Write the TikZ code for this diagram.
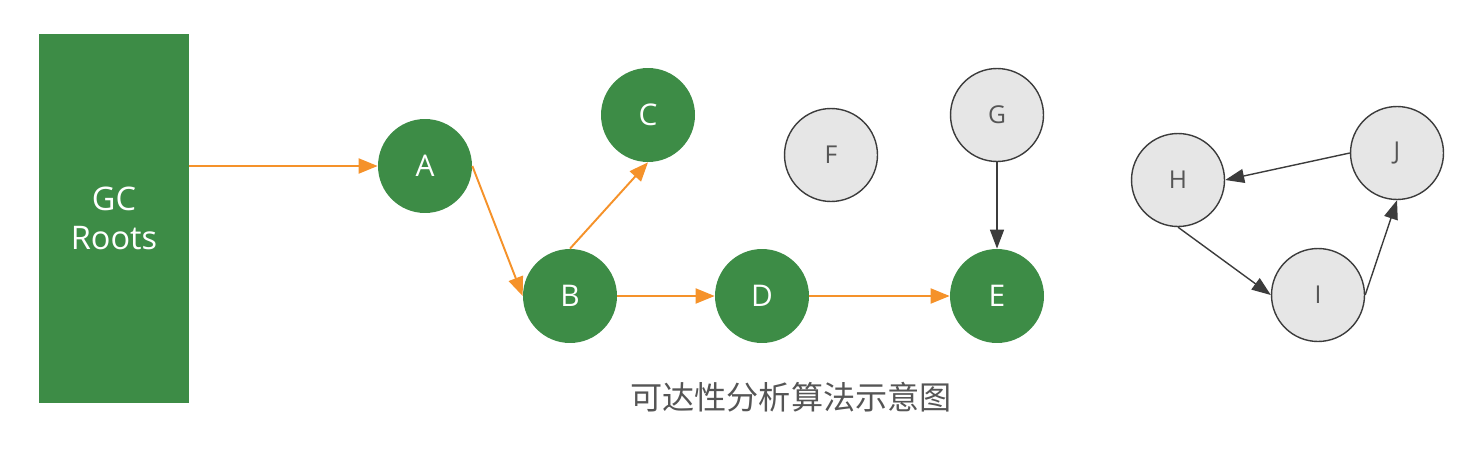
\documentclass[tikz,border=0pt]{standalone}
\usepackage{fontspec}
\setmainfont{Open Sans}
\newfontfamily\cjkfont{Noto Sans CJK SC}
\usetikzlibrary{arrows.meta}

\begin{document}
\begin{tikzpicture}[x=0.02cm, y=-0.02cm,
    live/.style={circle, fill=liveGreen, text=white, minimum size=1.88cm, inner sep=0pt, font=\fontsize{17}{20}\selectfont},
    dead/.style={circle, fill=deadFill, draw=deadBorder, line width=0.8pt, text=deadText, minimum size=1.86cm, inner sep=0pt, font=\fontsize{14}{17}\selectfont},
    reach/.style={draw=reachOrange, line width=1.1pt, -{Triangle[length=0.38cm, width=0.3cm]}},
    noreach/.style={draw=deadBorder, line width=0.8pt, -{Triangle[length=0.38cm, width=0.28cm]}}]
    \definecolor{liveGreen}{HTML}{3D8C46}
    \definecolor{reachOrange}{HTML}{F5922A}
    \definecolor{deadFill}{HTML}{E6E6E6}
    \definecolor{deadBorder}{HTML}{3C3C3C}
    \definecolor{deadText}{HTML}{555555}
    \definecolor{captionGray}{HTML}{555555}

    \useasboundingbox (0,0) rectangle (1466,456);

    % GC roots
    \node[fill=liveGreen, text=white, minimum width=3cm, minimum height=7.38cm, inner sep=0pt,
          align=center, font=\fontsize{18.5}{22}\selectfont] (roots) at (114,218.5) {GC\\Roots};

    % Reachable objects
    \node[live] (A) at (425,166) {A};
    \node[live] (B) at (570,296) {B};
    \node[live] (C) at (648,115) {C};
    \node[live] (D) at (762,296) {D};
    \node[live] (E) at (997,296) {E};

    % Unreachable objects
    \node[dead] (F) at (831,155) {F};
    \node[dead] (G) at (997,115) {G};
    \node[dead] (H) at (1178,180) {H};
    \node[dead] (I) at (1318,295) {I};
    \node[dead] (J) at (1397,153) {J};

    % Reference chains
    \draw[reach] (roots.east |- A.west) -- (A.west);
    \draw[reach] (A.east) -- (B.west);
    \draw[reach] (B.north) -- (C.south);
    \draw[reach] (B.east) -- (D.west);
    \draw[reach] (D.east) -- (E.west);

    % References between unreachable objects
    \draw[noreach] (G.south) -- (E.north);
    \draw[noreach] (J.west) -- (H.east);
    \draw[noreach] (H.south) -- (I.west);
    \draw[noreach] (I.east) -- (J.south);

    % Caption
    \node[text=captionGray, font=\cjkfont\fontsize{18.3}{22}\selectfont] (caption) at (791,397) {可达性分析算法示意图};

\end{tikzpicture}
\end{document}
